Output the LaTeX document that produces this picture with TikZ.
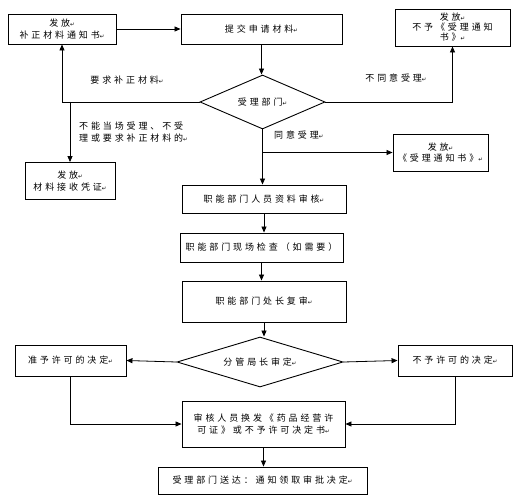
\documentclass[tikz,border=0pt]{standalone}
\usepackage{fontspec}
\usetikzlibrary{arrows.meta,shapes.geometric}
\setmainfont{Noto Sans CJK SC}[LetterSpace=32]
\newfontfamily\symf{DejaVu Sans}
\newcommand\retmark{{\symf\fontsize{5.5}{5.5}\selectfont ↵}}
\begin{document}
\begin{tikzpicture}[x=1pt,y=-1pt,
  every node/.style={font=\fontsize{9}{11.5}\selectfont, inner sep=0pt},
  box/.style={draw, line width=0.9pt, align=center},
  dia/.style={draw, line width=0.9pt, diamond},
  arr/.style={draw, line width=0.8pt, -{Triangle[length=6pt,width=5pt]}},
  lab/.style={align=left, anchor=west}]
\useasboundingbox (0,0) rectangle (516,500);
% nodes
\node[box, minimum width=108, minimum height=30] (b1) at (62,29) {发放\retmark\\补正材料通知书\retmark};
\node[box, minimum width=161, minimum height=30] (b2) at (261.5,29) {提交申请材料\retmark};
\node[box, minimum width=115, minimum height=37, font=\fontsize{9}{10}\selectfont] (b3) at (452.5,27.5) {发放\retmark\\不予《受理通知\\书》\retmark};
\node[dia, minimum width=125, minimum height=54] (d1) at (262.5,102) {\makebox[0pt]{受理部门\retmark}};
\node[box, minimum width=90, minimum height=37] (b4) at (70,181) {发放\retmark\\材料接收凭证\retmark};
\node[box, minimum width=95, minimum height=37] (b5) at (440.5,152.5) {发放\retmark\\《受理通知书》\retmark};
\node[box, minimum width=164, minimum height=28] (b6) at (264,199) {职能部门人员资料审核\retmark};
\node[box, minimum width=163, minimum height=29] (b7) at (261.5,247.5) {职能部门现场检查（如需要）};
\node[box, minimum width=164, minimum height=41] (b8) at (264,301.5) {职能部门处长复审\retmark};
\node[dia, minimum width=166, minimum height=50] (d2) at (260,362) {\makebox[0pt]{分管局长审定\retmark}};
\node[box, minimum width=111, minimum height=31] (bl) at (70.5,360.5) {准予许可的决定\retmark};
\node[box, minimum width=114, minimum height=31] (br) at (455,360.5) {不予许可的决定\retmark};
\node[box, minimum width=163, minimum height=46] (rv) at (263.5,424) {审核人员换发《药品经营许\\可证》或不予许可决定书\retmark};
\node[box, minimum width=209, minimum height=27] (fn) at (262.5,480.5) {受理部门送达：通知领取审批决定\retmark};
% labels
\node (l1) at (127,80) {要求补正材料\retmark};
\node (l2) at (396,78) {不同意受理\retmark};
\node[lab] (l3) at (79,132) {不能当场受理、不受\\理或要求补正材料的\retmark};
\node[lab] (l4) at (274,135) {同意受理\retmark};
% connectors
\draw[arr] (b1.east) -- (b2.west);
\draw[arr] (b2.south) -- (b2.south |- d1.north);
\draw[arr] (d1.west) -| (b1.south);
\draw[arr] (d1.east) -| (b3.south);
\draw[arr] (b4.north |- d1.west) -- (b4.north);
\draw[arr] (d1.south) -- (d1.south |- b6.north);
\draw[arr] (d1.south |- b5.west) -- (b5.west);
\draw[arr] (b6.south) -- (b6.south |- b7.north);
\draw[arr] (b7.south) -- (b7.south |- b8.north);
\draw[arr] (b8.south) -- (b8.south |- d2.north);
\draw[arr] (d2.west) -- (bl.east);
\draw[arr] (d2.east) -- (br.west);
\draw[arr] (bl.south) |- (rv.west);
\draw[arr] (br.south) |- (rv.east);
\draw[arr] (rv.south) -- (rv.south |- fn.north);
\end{tikzpicture}
\end{document}
